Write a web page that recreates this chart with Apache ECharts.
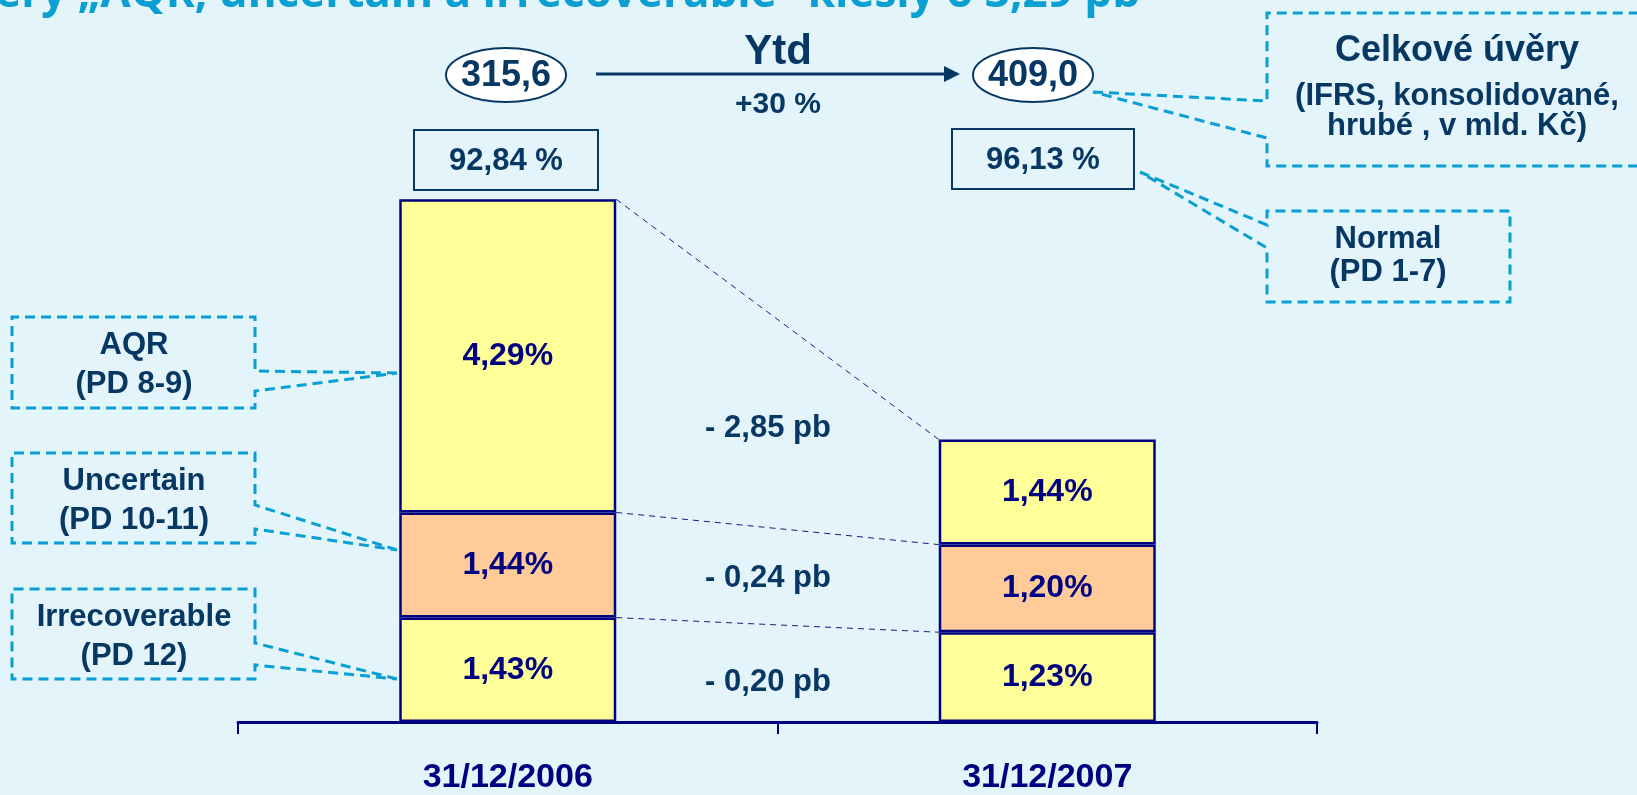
<!DOCTYPE html>
<html>
<head>
<meta charset="utf-8">
<script src="https://cdn.jsdelivr.net/npm/echarts@6/dist/echarts.min.js"></script>
<style>
html,body{margin:0;padding:0;background:#e3f4fb;}
#main{width:1637px;height:795px;}
</style>
</head>
<body>
<div id="main"></div>
<script>
var categories = ['31/12/2006', '31/12/2007'];
var irrecoverable = [1.43, 1.23];
var uncertain = [1.44, 1.20];
var aqr = [4.29, 1.44];
var totalLoans = ['315,6', '409,0'];
var normalShare = ['92,84 %', '96,13 %'];
var changes = ['- 2,85 pb', '- 0,24 pb', '- 0,20 pb'];

var FONT = '"Liberation Sans", Arial, sans-serif';
var DARK = '#073763';
var NAVY = '#000080';
var CYAN = '#0a9fd2';

function fmt(v) {
    return v.toFixed(2).replace('.', ',') + '%';
}

var barLabel = {
    show: true,
    position: 'inside',
    fontFamily: FONT,
    fontWeight: 'bold',
    fontSize: 32,
    color: NAVY,
    formatter: function (p) { return fmt(p.value); }
};
var barStyle = function (c) {
    return { color: c, borderColor: NAVY, borderWidth: 2.5 };
};

var option = {
    backgroundColor: '#e3f4fb',
    animation: false,
    grid: { left: 238, right: 320, top: 65, bottom: 73, outerBoundsMode: 'none', containLabel: false },
    xAxis: {
        type: 'category',
        data: categories,
        axisLine: { show: true, lineStyle: { color: NAVY, width: 3 } },
        axisTick: { show: true, inside: false, alignWithLabel: false, interval: 0, length: 12, lineStyle: { color: NAVY, width: 2 } },
        axisLabel: {
            margin: 39,
            fontFamily: FONT,
            fontWeight: 'bold',
            fontSize: 34,
            color: NAVY
        }
    },
    yAxis: { type: 'value', min: 0, max: 9, show: false, splitLine: { show: false } },
    series: [
        { name: 'Irrecoverable', type: 'bar', stack: 'a', barWidth: 217, data: irrecoverable, itemStyle: barStyle('#ffff99'), label: barLabel },
        { name: 'Uncertain', type: 'bar', stack: 'a', barWidth: 217, data: uncertain, itemStyle: barStyle('#ffcc99'), label: barLabel },
        { name: 'AQR', type: 'bar', stack: 'a', barWidth: 217, data: aqr, itemStyle: barStyle('#ffff99'), label: barLabel }
    ]
};

var chart = echarts.init(document.getElementById('main'));
chart.setOption(option);

function txt(x, y, s, size, color) {
    return {
        type: 'text', x: x, y: y, z: 10,
        style: {
            text: s, fontFamily: FONT, fontWeight: 'bold', fontSize: size,
            fill: color || DARK, align: 'center', verticalAlign: 'middle'
        }
    };
}
function dashed(points) {
    return {
        type: 'polyline', z: 5,
        shape: { points: points },
        style: { stroke: CYAN, lineWidth: 3, lineDash: [10, 6], fill: null }
    };
}

// dashed connectors between the stacked segments
var g = [];
var half = 217 / 2;
var tops1 = [irrecoverable[0], irrecoverable[0] + uncertain[0], irrecoverable[0] + uncertain[0] + aqr[0]];
var tops2 = [irrecoverable[1], irrecoverable[1] + uncertain[1], irrecoverable[1] + uncertain[1] + aqr[1]];
for (var i = 0; i < 3; i++) {
    var a = chart.convertToPixel({ xAxisIndex: 0, yAxisIndex: 0 }, [0, tops1[i]]);
    var b = chart.convertToPixel({ xAxisIndex: 0, yAxisIndex: 0 }, [1, tops2[i]]);
    g.push({
        type: 'line', z: 3,
        shape: { x1: a[0] + half, y1: a[1], x2: b[0] - half, y2: b[1] },
        style: { stroke: '#1a1a80', lineWidth: 1, lineDash: [6, 5] }
    });
}

// title (cut at top)
g.push({
    type: 'text', x: 1140, y: -6,
    style: {
        text: 'Úvěry „AQR, uncertain a irrecoverable“ klesly o 3,29 pb',
        fontFamily: '"Open Sans", sans-serif', fontWeight: 'bold', fontSize: 44,
        fill: '#0a9fd2', align: 'right', verticalAlign: 'middle'
    }
});

// totals + arrow
g.push({ type: 'ellipse', z: 6, shape: { cx: 506, cy: 75, rx: 60, ry: 27 }, style: { fill: '#ffffff', stroke: DARK, lineWidth: 2 } });
g.push({ type: 'ellipse', z: 6, shape: { cx: 1033, cy: 75, rx: 60, ry: 27 }, style: { fill: '#ffffff', stroke: DARK, lineWidth: 2 } });
g.push(txt(506, 76, totalLoans[0], 36));
g.push(txt(1033, 76, totalLoans[1], 36));
g.push({ type: 'line', shape: { x1: 596, y1: 74, x2: 948, y2: 74 }, style: { stroke: DARK, lineWidth: 3 } });
g.push({ type: 'polygon', shape: { points: [[944, 66], [960, 74], [944, 82]] }, style: { fill: DARK } });
g.push(txt(778, 52, 'Ytd', 42));
g.push(txt(778, 105, '+30 %', 30));

// normal share boxes
g.push({ type: 'rect', z: 6, shape: { x: 414, y: 130, width: 184, height: 60 }, style: { fill: 'transparent', stroke: DARK, lineWidth: 2 } });
g.push({ type: 'rect', z: 6, shape: { x: 952, y: 129, width: 182, height: 60 }, style: { fill: 'transparent', stroke: DARK, lineWidth: 2 } });
g.push(txt(506, 161, normalShare[0], 31));
g.push(txt(1043, 160, normalShare[1], 31));

// change labels
g.push(txt(768, 428, changes[0], 31));
g.push(txt(768, 578, changes[1], 31));
g.push(txt(768, 682, changes[2], 31));

// callouts
g.push(dashed([[1093, 92], [1267, 101], [1267, 13], [1645, 13], [1645, 166], [1267, 166], [1267, 138], [1093, 92]]));
g.push(txt(1457, 51, 'Celkové úvěry', 36));
g.push(txt(1457, 96, '(IFRS, konsolidované,', 31));
g.push(txt(1457, 126, 'hrubé , v mld. Kč)', 31));

g.push(dashed([[1140, 172], [1267, 225], [1267, 211], [1510, 211], [1510, 302], [1267, 302], [1267, 248], [1140, 172]]));
g.push(txt(1388, 239, 'Normal', 31));
g.push(txt(1388, 272, '(PD 1-7)', 31));

g.push(dashed([[397, 373], [255, 371], [255, 317], [12, 317], [12, 408], [255, 408], [255, 391], [397, 373]]));
g.push(txt(134, 345, 'AQR', 31));
g.push(txt(134, 384, '(PD 8-9)', 31));

g.push(dashed([[397, 550], [255, 505], [255, 453], [12, 453], [12, 543], [255, 543], [255, 529], [397, 550]]));
g.push(txt(134, 481, 'Uncertain', 31));
g.push(txt(134, 520, '(PD 10-11)', 31));

g.push(dashed([[397, 679], [255, 643], [255, 589], [12, 589], [12, 679], [255, 679], [255, 665], [397, 679]]));
g.push(txt(134, 617, 'Irrecoverable', 31));
g.push(txt(134, 656, '(PD 12)', 31));

chart.setOption({ graphic: g });
</script>
</body>
</html>
